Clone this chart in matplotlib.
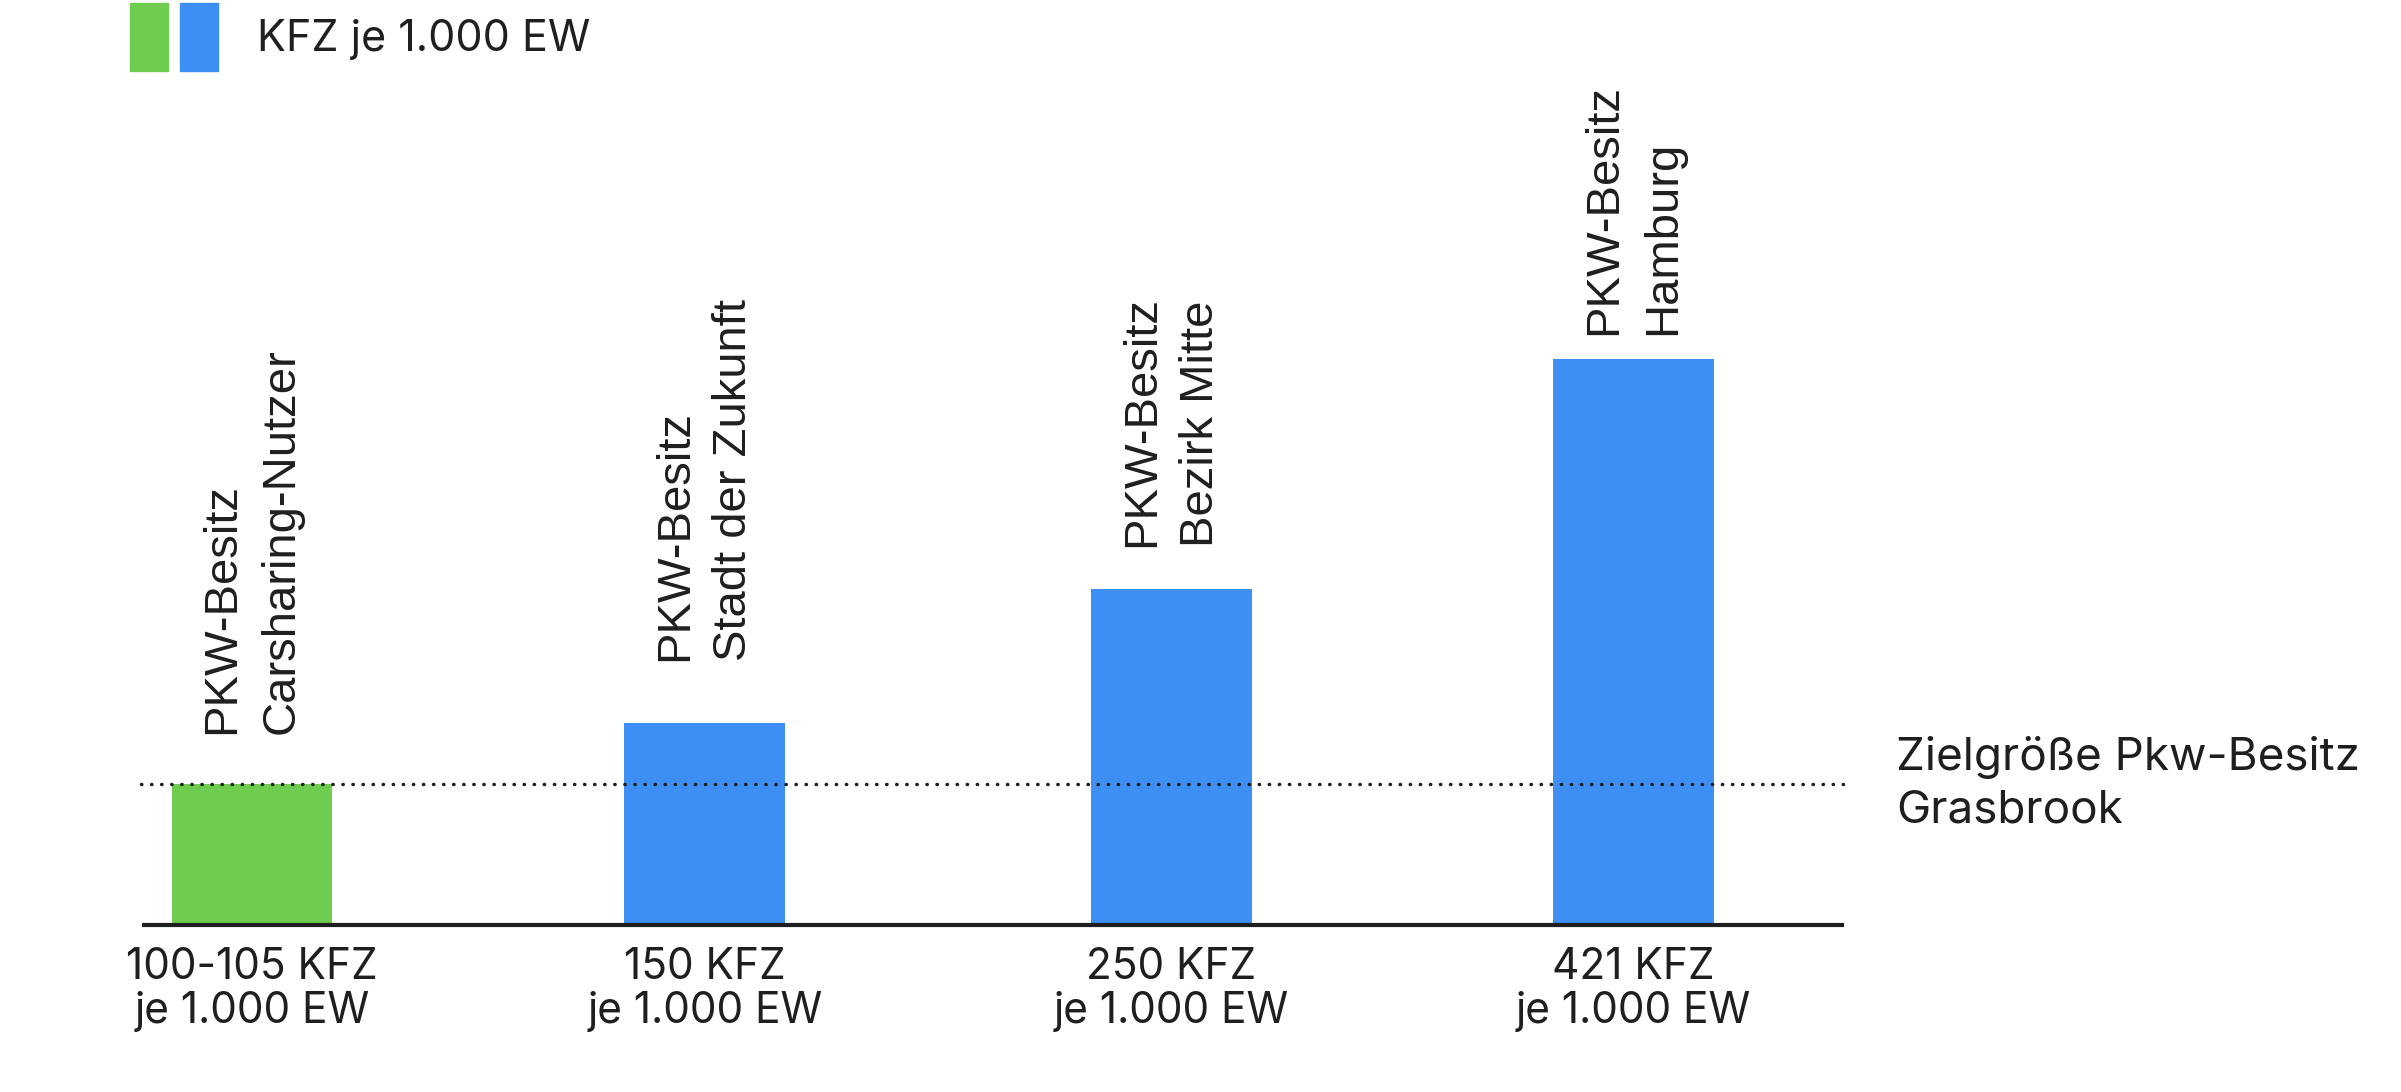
import matplotlib
matplotlib.use("Agg")
import matplotlib.pyplot as plt
from matplotlib.patches import Patch
from matplotlib.legend_handler import HandlerTuple

# data
values = [105, 150, 250, 421]
target = 105
top_labels = ["PKW-Besitz\nCarsharing-Nutzer", "PKW-Besitz\nStadt der Zukunft",
              "PKW-Besitz\nBezirk Mitte", "PKW-Besitz\nHamburg"]
bottom_labels = ["100-105 KFZ\nje 1.000 EW", "150 KFZ\nje 1.000 EW",
                 "250 KFZ\nje 1.000 EW", "421 KFZ\nje 1.000 EW"]
legend_label = "KFZ je 1.000 EW"
target_label = "Zielgröße Pkw-Besitz\nGrasbrook"

green = "#6ECC4F"
blue = "#3E8FF3"
ink = "#1f1f1f"
colors = [green, blue, blue, blue]
# layout: bar slots (bars are not quite evenly spaced) and label gaps in points
slots = [0, 0.98, 1.99, 2.99]
label_gap = [36, 45, 30, 17]

W, H = 2401, 1092
step = 462.0   # px per slot
k = 1.345      # px per unit
x0, y0 = 252, 925

fig = plt.figure(figsize=(W / 100, H / 100), dpi=100)
ax = fig.add_axes([0, 0, 1, 1])
ax.set_xlim(-x0 / step, (W - x0) / step)
ax.set_ylim(-(H - y0) / k, y0 / k)
ax.axis("off")

ax.bar(slots, values, width=0.348, color=colors, zorder=2)
ax.plot([-0.238, 3.446], [0, 0], color=ink, lw=3, zorder=3, solid_capstyle="butt")
ax.plot([-0.24, 3.45], [target, target], color=ink, lw=2.5, zorder=3,
        linestyle=(0, (0.1, 2.8)), dash_capstyle="round")

main_font = ["Inter", "DejaVu Sans"]
for i, v in enumerate(values):
    ax.annotate(top_labels[i], (slots[i], v), xytext=(0, label_gap[i]),
                textcoords="offset points", rotation=90, ha="center", va="bottom",
                multialignment="left", fontsize=34, color=ink,
                family=["Liberation Sans"], linespacing=1.45)
    ax.annotate(bottom_labels[i], (slots[i], 0), xytext=(0, -16),
                textcoords="offset points", ha="center", va="top",
                fontsize=30.5, color=ink, family=main_font, linespacing=1.1)

ax.text(3.558, target, target_label, ha="left", va="center", fontsize=33,
        color=ink, family=main_font, linespacing=1.3)

handles = [(Patch(color=green), Patch(color=blue))]
fig.legend(handles, [legend_label], loc="upper left",
           bbox_to_anchor=(130 / W, 1 - 3 / H), frameon=False,
           handler_map={tuple: HandlerTuple(ndivide=None, pad=0.27)},
           handlelength=2.05, handleheight=2.05, handletextpad=0.9,
           borderpad=0, borderaxespad=0,
           prop={"family": main_font, "size": 31}, labelcolor=ink)

fig.savefig("out.png", dpi=100)
